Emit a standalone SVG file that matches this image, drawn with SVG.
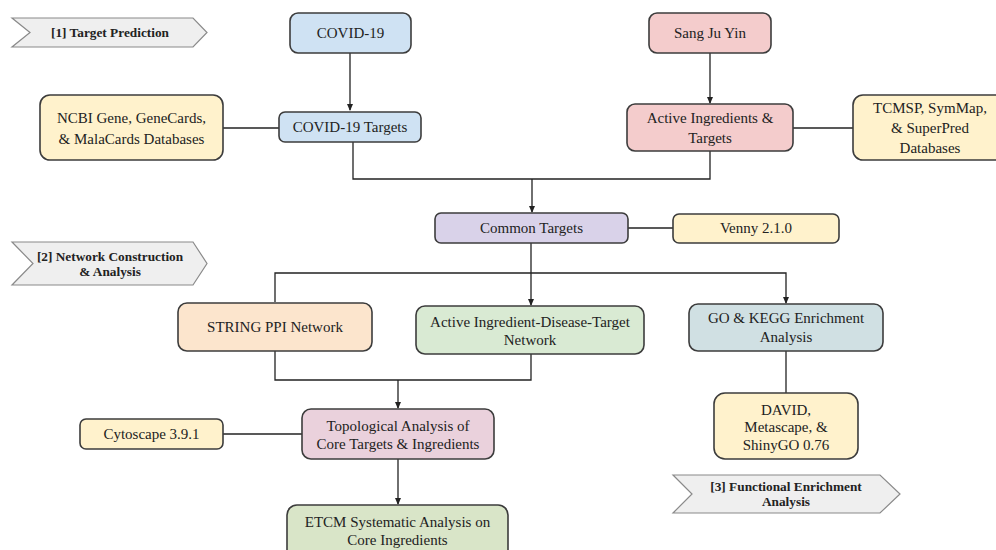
<svg xmlns="http://www.w3.org/2000/svg" width="996" height="550" viewBox="0 0 996 550">
<style>
.b{stroke:#3c3c3c;stroke-width:1.6}
.t{font-family:"Liberation Serif","Times New Roman","DejaVu Serif",serif;font-size:15px;fill:#222;text-anchor:middle}
.h{font-family:"Liberation Serif","Times New Roman","DejaVu Serif",serif;font-size:13.3px;font-weight:bold;fill:#222;text-anchor:middle}
.c{fill:#efefef;stroke:#8a8a8a;stroke-width:1.2}
.l{fill:none;stroke:#222;stroke-width:1.3}
</style>
<defs>
<marker id="a" viewBox="0 0 8 8" refX="7" refY="4" markerWidth="7" markerHeight="7" markerUnits="userSpaceOnUse" orient="auto">
<path d="M0,0.5 L8,4 L0,7.5 Z" fill="#222"/>
</marker>
</defs>
<rect width="996" height="550" fill="#fff"/>
<g id="connectors">
<path class="l" d="M350,53 V110" marker-end="url(#a)"/>
<path class="l" d="M710,53 V103" marker-end="url(#a)"/>
<path class="l" d="M223,128 H279"/>
<path class="l" d="M793,128 H853"/>
<path class="l" d="M353,142 V179 H710 V151"/>
<path class="l" d="M532,179 V212" marker-end="url(#a)"/>
<path class="l" d="M628,228 H673"/>
<path class="l" d="M531,243 V305" marker-end="url(#a)"/>
<path class="l" d="M275,302 V273 H786 V303" marker-end="url(#a)"/>
<path class="l" d="M275,351 V380 H531 V354"/>
<path class="l" d="M398,380 V408" marker-end="url(#a)"/>
<path class="l" d="M223,434 H302"/>
<path class="l" d="M398,459 V504" marker-end="url(#a)"/>
<path class="l" d="M786,351 V393"/>
</g>
<g id="stage1">
<path class="c" d="M12,18 H193 L207,32.5 L193,47 H12 L30,32.5 Z"/>
<text class="h" x="110" y="37">[1] Target Prediction</text>
</g>
<g id="stage2">
<path class="c" d="M12,242 H193 L207,263.5 L193,285 H12 L33,263.5 Z"/>
<text class="h" x="110" y="261">[2] Network Construction</text>
<text class="h" x="110" y="276">&amp; Analysis</text>
</g>
<g id="stage3">
<path class="c" d="M673,475 H880 L900,494 L880,513 H673 L692,494 Z"/>
<text class="h" x="786" y="491">[3] Functional Enrichment</text>
<text class="h" x="786" y="506">Analysis</text>
</g>
<g id="covid">
<rect class="b" x="290" y="13" width="121" height="40" rx="8" fill="#cfe2f3"/>
<text class="t" x="350.5" y="38">COVID-19</text>
</g>
<g id="covidTargets">
<rect class="b" x="279" y="112" width="142" height="30" rx="6" fill="#cfe2f3"/>
<text class="t" x="350" y="132">COVID-19 Targets</text>
</g>
<g id="ncbi">
<rect class="b" x="40" y="95" width="183" height="65" rx="10" fill="#fff2cc"/>
<text class="t" x="131.5" y="123">NCBI Gene, GeneCards,</text>
<text class="t" x="131.5" y="144">&amp; MalaCards Databases</text>
</g>
<g id="sangJuYin">
<rect class="b" x="649" y="13" width="122" height="40" rx="8" fill="#f4cccc"/>
<text class="t" x="710" y="38">Sang Ju Yin</text>
</g>
<g id="activeIngredients">
<rect class="b" x="627" y="104" width="166" height="47" rx="8" fill="#f4cccc"/>
<text class="t" x="710" y="123">Active Ingredients &amp;</text>
<text class="t" x="710" y="143">Targets</text>
</g>
<g id="tcmsp">
<rect class="b" x="853" y="95" width="156" height="65" rx="10" fill="#fff2cc"/>
<text class="t" x="930" y="113">TCMSP, SymMap,</text>
<text class="t" x="930" y="133">&amp; SuperPred</text>
<text class="t" x="930" y="153">Databases</text>
</g>
<g id="commonTargets">
<rect class="b" x="435" y="213" width="193" height="30" rx="6" fill="#d9d2e9"/>
<text class="t" x="531.5" y="233">Common Targets</text>
</g>
<g id="venny">
<rect class="b" x="673" y="214" width="166" height="29" rx="6" fill="#fff2cc"/>
<text class="t" x="756" y="233">Venny 2.1.0</text>
</g>
<g id="string">
<rect class="b" x="178" y="303" width="194" height="48" rx="9" fill="#fce5cd"/>
<text class="t" x="275" y="332">STRING PPI Network</text>
</g>
<g id="aidt">
<rect class="b" x="416" y="306" width="228" height="48" rx="9" fill="#d9ead3"/>
<text class="t" x="530" y="327">Active Ingredient-Disease-Target</text>
<text class="t" x="530" y="345">Network</text>
</g>
<g id="goKegg">
<rect class="b" x="689" y="304" width="194" height="47" rx="9" fill="#d0e0e3"/>
<text class="t" x="786" y="323">GO &amp; KEGG Enrichment</text>
<text class="t" x="786" y="342">Analysis</text>
</g>
<g id="topological">
<rect class="b" x="302" y="409" width="192" height="50" rx="9" fill="#ead1dc"/>
<text class="t" x="398" y="431">Topological Analysis of</text>
<text class="t" x="398" y="449">Core Targets &amp; Ingredients</text>
</g>
<g id="cytoscape">
<rect class="b" x="80" y="419" width="143" height="30" rx="6" fill="#fff2cc"/>
<text class="t" x="151.5" y="439">Cytoscape 3.9.1</text>
</g>
<g id="david">
<rect class="b" x="714" y="393" width="144" height="66" rx="11" fill="#fff2cc"/>
<text class="t" x="786" y="415">DAVID,</text>
<text class="t" x="786" y="432">Metascape, &amp;</text>
<text class="t" x="786" y="450">ShinyGO 0.76</text>
</g>
<g id="etcm">
<rect class="b" x="287" y="505" width="221" height="60" rx="10" fill="#d9e5c8"/>
<text class="t" x="397.5" y="527">ETCM Systematic Analysis on</text>
<text class="t" x="397.5" y="545">Core Ingredients</text>
</g>
</svg>
